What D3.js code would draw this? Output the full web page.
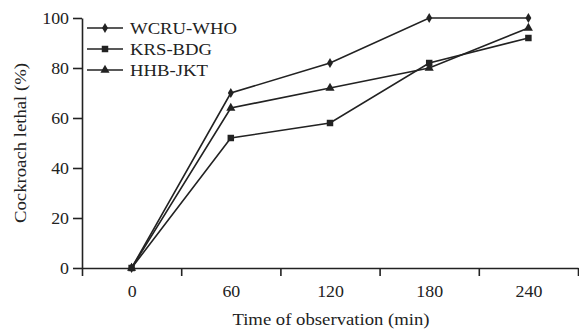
<!DOCTYPE html>
<html lang="en">
<head>
<meta charset="UTF-8">
<title>Cockroach lethal</title>
<style>
    body { margin: 0; background: #fff; }
    svg text { font-family: 'Liberation Serif', 'Times New Roman', serif; fill: #222; }
</style>
</head>
<body>
<div id="chart"></div>
<script src="https://d3js.org/d3.v7.min.js"></script>
<script>
    // data
    const times = [0, 60, 120, 180, 240];
    const seriesNames = ['WCRU-WHO', 'KRS-BDG', 'HHB-JKT'];
    const wcruWho = [0, 70, 82, 100, 100];
    const krsBdg = [0, 52, 58, 82, 92];
    const hhbJkt = [0, 64, 72, 80, 96];
    const yTicks = [0, 20, 40, 60, 80, 100];
    const xBounds = [-30, 30, 90, 150, 210, 270];

    const series = [
        { name: seriesNames[0], values: wcruWho, symbol: d3.symbolDiamond, size: 30 },
        { name: seriesNames[1], values: krsBdg, symbol: d3.symbolSquare, size: 42 },
        { name: seriesNames[2], values: hhbJkt, symbol: d3.symbolTriangle, size: 36 }
    ];

    const width = 579, height = 330;
    const ink = '#222';
    const fontSize = '17px';

    const svg = d3.select('#chart').append('svg')
        .attr('width', width)
        .attr('height', height);

    const x = d3.scaleLinear().domain([-30, 270]).range([82, 578]);
    const y = d3.scaleLinear().domain([0, 100]).range([268, 18]);

    // x axis: ticks on the category boundaries, labels in between
    svg.append('g')
        .attr('transform', `translate(0,${y(0)})`)
        .call(d3.axisBottom(x).tickValues(xBounds).tickFormat('').tickSize(8).tickSizeOuter(0));
    svg.append('g')
        .attr('transform', `translate(0,${y(0)})`)
        .call(d3.axisBottom(x).tickValues(times).tickSize(0).tickPadding(17))
        .call(g => g.select('.domain').remove());

    svg.append('g')
        .attr('transform', `translate(${x(-30)},0)`)
        .call(d3.axisLeft(y).tickValues(yTicks).tickSize(9).tickSizeOuter(0).tickPadding(4));

    svg.selectAll('.domain, .tick line')
        .attr('stroke', ink)
        .attr('stroke-width', 1.6);
    svg.selectAll('.tick text')
        .classed('num', true)
        .style('font-family', "'Liberation Serif', serif")
        .style('font-size', fontSize)
        .attr('fill', ink);

    // axis titles
    svg.append('text')
        .attr('x', 331)
        .attr('y', 325)
        .attr('text-anchor', 'middle')
        .style('font-size', fontSize)
        .text('Time of observation (min)');

    svg.append('text')
        .attr('transform', `translate(26,${(y(0) + y(100)) / 2}) rotate(-90)`)
        .attr('text-anchor', 'middle')
        .style('font-size', fontSize)
        .text('Cockroach lethal (%)');

    const line = d3.line()
        .x((d, i) => x(times[i]))
        .y(d => y(d));

    series.forEach(s => {
        svg.append('path')
            .datum(s.values)
            .attr('d', line)
            .attr('fill', 'none')
            .attr('stroke', ink)
            .attr('stroke-width', 1.6);

        svg.selectAll(null)
            .data(s.values)
            .enter()
            .append('path')
            .attr('d', d3.symbol().type(s.symbol).size(s.size))
            .attr('transform', (d, i) => `translate(${x(times[i])},${y(d)})`)
            .attr('fill', ink);
    });

    // legend
    const legend = svg.append('g').attr('transform', 'translate(87,28)');
    series.forEach((s, i) => {
        const row = legend.append('g').attr('transform', `translate(0,${i * 21})`);
        row.append('line')
            .attr('x1', 0).attr('x2', 36)
            .attr('stroke', ink)
            .attr('stroke-width', 1.6);
        row.append('path')
            .attr('d', d3.symbol().type(s.symbol).size(s.size))
            .attr('transform', 'translate(18,0)')
            .attr('fill', ink);
        row.append('text')
            .attr('x', 43)
            .attr('dy', '0.35em')
            .style('font-size', fontSize)
            .text(s.name);
    });

    // widen text slightly to match the reference type
    svg.selectAll('text').each(function () {
        const len = this.getComputedTextLength();
        const stretch = this.classList.contains('num') ? 1.05 : 1.1;
        if (len > 0) {
            d3.select(this)
                .attr('textLength', len * stretch)
                .attr('lengthAdjust', 'spacingAndGlyphs');
        }
    });
</script>
</body>
</html>
